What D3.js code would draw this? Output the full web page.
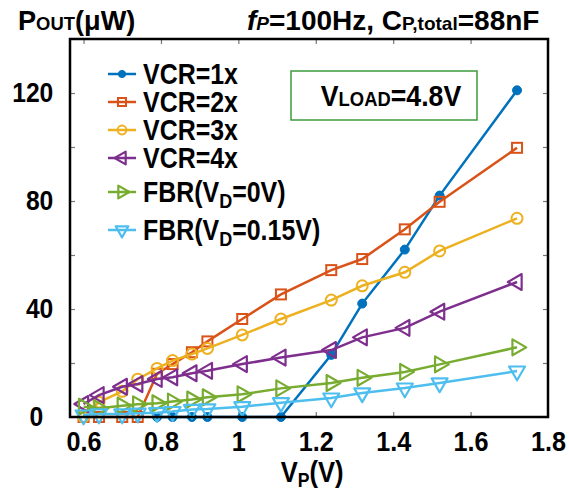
<!DOCTYPE html>
<html>
<head>
<meta charset="utf-8">
<script src="https://cdn.jsdelivr.net/npm/d3@7/dist/d3.min.js"></script>
<style>
body { margin: 0; background: #fff; }
text { font-family: "Liberation Sans", Arial, sans-serif; font-weight: bold; fill: #000; }
</style>
</head>
<body>
<div id="chart"></div>
<script>
// data
var xV    = [0.6, 0.64, 0.7, 0.74, 0.79, 0.83, 0.88, 0.92, 1.01, 1.11, 1.24, 1.32, 1.43, 1.52, 1.72];
var vcr1  = [null, null, null, null, 0, 0, 0, 0, 0, 0, 23, 42, 62, 82, 121];
var vcr2  = [0, 0, 0, 0, 16, 19.6, 24, 28, 36.3, 45.4, 54.4, 58.5, 69.5, 79.7, 99.7];
var vcr3  = [0, 5.5, 9.5, 14, 18, 20.9, 23.3, 25.4, 30.4, 36.3, 43.3, 48.6, 53.6, 61.5, 73.6];
var vcr4  = [4.8, 8.1, 11.2, 12.2, 14.1, 14.7, 16.2, 17.1, 19.6, 22, 24.8, 29.5, 33, 39, 50];
var fbr0  = [3.8, 3.2, 4.2, 4.7, 5.1, 5.7, 6.5, 7.3, 8.4, 10.6, 12.6, 14.5, 16.7, 19.5, 25.8];
var fbr15 = [0.7, 1.1, 1.1, 1.4, 1.6, 2.0, 2.8, 3.0, 3.8, 5.3, 7, 8.9, 10.7, 12.6, 17];

var xTicks = [0.6, 0.8, 1, 1.2, 1.4, 1.6, 1.8];
var yTicks = [0, 20, 40, 60, 80, 100, 120];
var yLabeled = [0, 40, 80, 120];

var W = 569, H = 491;
var margin = { top: 39, right: 21, bottom: 74, left: 70 };
var width = W - margin.left - margin.right,
    height = H - margin.top - margin.bottom;

var svg = d3.select("#chart").append("svg")
  .attr("width", W).attr("height", H);
var g = svg.append("g").attr("transform", "translate(" + margin.left + "," + margin.top + ")");

var x = d3.scaleLinear().domain([0.565, 1.8]).range([0, width]);
var y = d3.scaleLinear().domain([0, 140]).range([height, 0]);

// the original font is a narrow bold sans, squeeze Liberation Sans a bit
function stext(parent, px, py, size, anchor, sx) {
  return parent.append("text")
    .attr("transform", "translate(" + px + "," + py + ") scale(" + sx + ",1)")
    .attr("font-size", size).attr("text-anchor", anchor || "start");
}

// ticks inside the frame, on all four sides
function tickStyle(sel) {
  sel.select(".domain").remove();
  sel.selectAll(".tick line").attr("stroke", "#777").attr("stroke-width", 1.2);
}
var xAx = g.append("g").attr("transform", "translate(0," + height + ")")
  .call(d3.axisBottom(x).tickValues(xTicks).tickSizeInner(-5).tickSizeOuter(0).tickPadding(14)
    .tickFormat(function(d){ return d3.format("")(d); }))
  .call(tickStyle);
xAx.selectAll("text").attr("font-size", 28).attr("font-family", null)
  .attr("transform", "scale(0.9,1)");
g.append("g")
  .call(d3.axisTop(x).tickValues(xTicks).tickSizeInner(-5).tickSizeOuter(0).tickFormat(""))
  .call(tickStyle);
var yAx = g.append("g")
  .call(d3.axisLeft(y).tickValues(yTicks).tickSizeInner(-5).tickSizeOuter(0).tickPadding(17)
    .tickFormat(function(d){ return yLabeled.indexOf(d) >= 0 ? d : ""; }))
  .call(tickStyle);
yAx.selectAll("text").attr("font-size", 28).attr("font-family", null)
  .attr("transform", function(d){ return d == 0 ? "translate(-10,0) scale(0.88,1)" : "scale(0.88,1)"; })
  .attr("x", -19);
g.append("g").attr("transform", "translate(" + width + ",0)")
  .call(d3.axisRight(y).tickValues(yTicks).tickSizeInner(-5).tickSizeOuter(0).tickFormat(""))
  .call(tickStyle);

// series
var series = [
  { vals: vcr1,  color: "#0072BD", mark: "dot" },
  { vals: vcr2,  color: "#D95319", mark: "square" },
  { vals: vcr3,  color: "#EDB120", mark: "circle" },
  { vals: vcr4,  color: "#7E2F8E", mark: "left" },
  { vals: fbr0,  color: "#77AC30", mark: "right" },
  { vals: fbr15, color: "#4DBEEE", mark: "down" }
];

function drawMark(sel, mark, color, k) {
  k = k || 1;
  if (mark == "dot") {
    sel.append("circle").attr("r", 4.5 * k).attr("fill", color).attr("stroke", color).attr("stroke-width", 1);
  } else if (mark == "circle") {
    sel.append("circle").attr("r", 5.5 * k).attr("fill", "none").attr("stroke", color).attr("stroke-width", 2);
  } else if (mark == "square") {
    sel.append("rect").attr("x", -5 * k).attr("y", -5 * k).attr("width", 10 * k).attr("height", 10 * k)
      .attr("fill", "none").attr("stroke", color).attr("stroke-width", 2);
  } else {
    var rot = { left: -90, right: 90, down: 180 }[mark];
    sel.append("path").attr("d", d3.symbol().type(d3.symbolTriangle).size(110 * k * k)())
      .attr("transform", "rotate(" + rot + ")")
      .attr("fill", "none").attr("stroke", color).attr("stroke-width", 2.2).attr("stroke-linejoin", "round");
  }
}

var line = d3.line()
  .x(function(d){ return x(d[0]); })
  .y(function(d){ return y(d[1]); });

series.forEach(function(s){
  var pts = xV.map(function(v, i){ return [v, s.vals[i]]; }).filter(function(p){ return p[1] != null; });
  g.append("path").datum(pts)
    .attr("fill", "none").attr("stroke", s.color).attr("stroke-width", 2.5)
    .attr("d", line);
  g.selectAll(null).data(pts).enter().append("g")
    .attr("transform", function(d){ return "translate(" + x(d[0]) + "," + y(d[1]) + ")"; })
    .each(function(){ drawMark(d3.select(this), s.mark, s.color); });
});

// frame
g.append("rect").attr("width", width).attr("height", height)
  .attr("fill", "none").attr("stroke", "#000").attr("stroke-width", 2.5);

// legend
var legendLabels = [
  ["VCR=1x"], ["VCR=2x"], ["VCR=3x"], ["VCR=4x"],
  ["FBR(V", "D", "=0V)"], ["FBR(V", "D", "=0.15V)"]
];
var legendY = [74, 102, 130, 158, 192, 230];
legendLabels.forEach(function(lab, i){
  var s = series[i];
  var lg = svg.append("g").attr("transform", "translate(108," + legendY[i] + ")");
  lg.append("line").attr("x1", 0).attr("x2", 28).attr("stroke", s.color).attr("stroke-width", 2.5);
  var m = lg.append("g").attr("transform", "translate(14,0)");
  drawMark(m, s.mark, s.color, 0.8);
  var t = stext(lg, 35, 10, 29, "start", 0.86);
  t.append("tspan").text(lab[0]);
  if (lab.length > 1) {
    t.append("tspan").attr("font-size", 21).attr("dy", 6).text(lab[1]);
    t.append("tspan").attr("dy", -6).text(lab[2]);
  }
});

// V_LOAD box
svg.append("rect").attr("x", 291).attr("y", 71).attr("width", 186).attr("height", 49)
  .attr("fill", "none").attr("stroke", "#3c9a3c").attr("stroke-width", 1.5);
var vt = stext(svg, 391, 106, 29, "middle", 0.92);
vt.append("tspan").text("V");
vt.append("tspan").attr("font-size", 20).text("LOAD");
vt.append("tspan").text("=4.8V");

// titles
var t1 = stext(svg, 18, 30, 28, "start", 0.97);
t1.append("tspan").text("P");
t1.append("tspan").attr("font-size", 19).text("OUT");
t1.append("tspan").text("(μW)");

var t2 = stext(svg, 247, 30, 28, "start", 1);
t2.append("tspan").style("font-style", "italic").text("f");
t2.append("tspan").style("font-style", "italic").attr("font-size", 19).text("P");
t2.append("tspan").text("=100Hz, C");
t2.append("tspan").attr("font-size", 19).text("P,total");
t2.append("tspan").text("=88nF");

var xl = stext(svg, 312, 482, 29, "middle", 0.88);
xl.append("tspan").text("V");
xl.append("tspan").attr("font-size", 20).attr("dy", 5).text("P");
xl.append("tspan").attr("dy", -5).text("(V)");
</script>
</body>
</html>
